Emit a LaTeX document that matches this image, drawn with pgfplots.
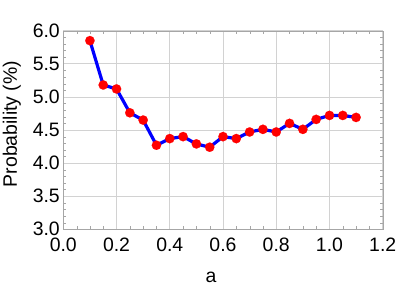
\documentclass[border=0pt]{standalone}
\usepackage{pgfplots}
\pgfplotsset{compat=1.18}
\usepackage{fontspec}
\setmainfont{Liberation Sans}
\begin{document}
\begin{tikzpicture}
\path[use as bounding box] (-63.3bp,-58.7bp) rectangle (351.7bp,229.3bp);
\begin{axis}[
  at={(0,0)}, anchor=south west,
  scale only axis, width=319.4bp, height=198.6bp,
  xmin=0, xmax=1.2, ymin=3, ymax=6,
  xtick={0,0.2,...,1.2}, ytick={3,3.5,...,6},
  minor x tick num=3, minor y tick num=4,
  /pgf/number format/fixed, /pgf/number format/fixed zerofill, /pgf/number format/precision=1,
  /pgf/number format/assume math mode=true,
  tick label style={font=\fontsize{19.5}{20}\selectfont, black},
  xticklabel style={anchor=base, yshift=-22.4bp},
  yticklabel style={anchor=east, inner xsep=0pt, xshift=-3.3bp},
  xticklabel shift=0pt, yticklabel shift=0pt,
  xlabel={a}, ylabel={Probability (\%)},
  every axis x label/.style={at={([yshift=-52.7bp]axis description cs:0.4624,0)}, anchor=base, font=\fontsize{19.5}{20}\selectfont, black},
  every axis y label/.style={at={([xshift=-46.3bp]axis description cs:0,0.530)}, anchor=base, rotate=90, font=\fontsize{19.5}{20}\selectfont, black},
  axis line style={gray!70},
  grid=major, major grid style={gray!35, line width=0.8bp},
  major tick length=0pt, minor tick length=3bp,
  minor tick style={gray!70},
  tick align=inside,
  clip=false,
]
\addplot[blue, line width=3.2bp, mark=*, mark size=4.7bp, mark options={draw=red, fill=red, line width=0.1bp}]
coordinates {
(0.10,5.85) (0.15,5.18) (0.20,5.12) (0.25,4.76) (0.30,4.65) (0.35,4.27)
(0.40,4.37) (0.45,4.40) (0.50,4.29) (0.55,4.24) (0.60,4.40) (0.65,4.37)
(0.70,4.47) (0.75,4.51) (0.80,4.47) (0.85,4.60) (0.90,4.51) (0.95,4.66)
(1.00,4.72) (1.05,4.72) (1.10,4.69)
};
\end{axis}
\end{tikzpicture}
\end{document}
